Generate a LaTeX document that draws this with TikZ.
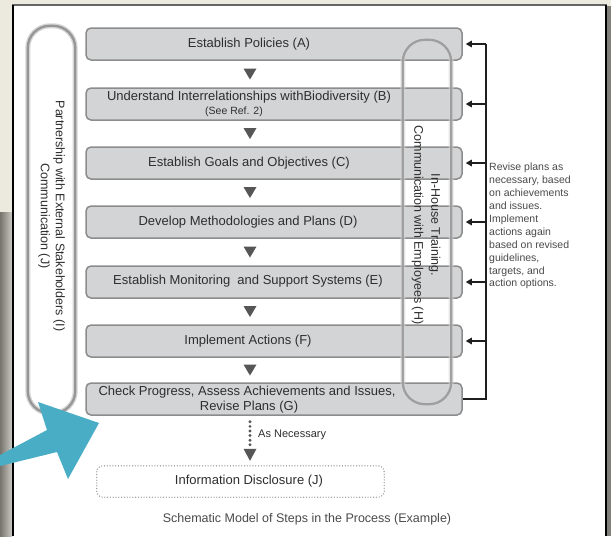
\documentclass[tikz,border=0pt]{standalone}
\usepackage{fontspec}
\setmainfont{Liberation Sans}
\usetikzlibrary{calc,arrows.meta}
\definecolor{bgbeige}{HTML}{ECE9DF}
\definecolor{stripgray}{HTML}{A9A59B}
\definecolor{boxfill}{HTML}{D3D4D6}
\definecolor{boxline}{HTML}{8C8C8C}
\definecolor{trigray}{HTML}{565656}
\definecolor{pillline}{HTML}{969696}
\definecolor{pillsoft}{HTML}{D6D6D6}
\definecolor{tealarrow}{HTML}{4AADC6}
\definecolor{txtdark}{HTML}{2E2E2E}
\definecolor{txtmid}{HTML}{4A4A4A}
\begin{document}
\begin{tikzpicture}[x=1pt,y=-1pt,
  stepbox/.style={draw=boxline,fill=boxfill,line width=1.5pt,rounded corners=5pt,minimum width=376pt,minimum height=32pt,inner sep=0pt},
  boxtext/.style={font=\fontsize{13}{15}\selectfont,text=txtdark,inner sep=0pt},
  smalltext/.style={font=\fontsize{10.5}{12}\selectfont,text=txtdark,inner sep=0pt},
  pillsoftline/.style={draw=pillsoft,line width=5pt,rounded corners=22pt},
  pillmain/.style={draw=pillline,line width=2.3pt,rounded corners=22pt},
  pilltext/.style={font=\fontsize{12.5}{15}\selectfont,text=txtdark,align=center,rotate=-90,inner sep=0pt},
  fbline/.style={draw=black!88,line width=1.3pt},
  fbarrow/.style={draw=black!88,line width=1.3pt,-{Triangle[length=6pt,width=6.5pt]},shorten >=3pt},
  dotflow/.style={draw=trigray,line width=3.2pt,line cap=round,dash pattern=on 0pt off 4.6pt},
  infobox/.style={draw=black!40,line width=1.4pt,line cap=round,dash pattern=on 0pt off 2.8pt,rounded corners=6pt,minimum width=287pt,minimum height=31pt,inner sep=0pt}
]
\useasboundingbox (0,0) rectangle (611,536);
% background and panel
\fill[bgbeige] (0,0) rectangle (611,536);
\shade[left color=stripgray!70!black,right color=stripgray!60!white,shading angle=90] (0,212) rectangle (12,536);
\fill[white] (13,5) rectangle (606,536);
\draw[black!60,line width=1.6pt] (12,5) -- (607,5);
\draw[black,line width=2pt] (13,5) -- (13,536);
\fill[black!45!bgbeige] (607,6) rectangle (611,536);
\draw[black,line width=2.6pt] (606,5) -- (606,536);

\coordinate (flowx) at (250,0);
\coordinate (fbx) at (486,0);

% left pill
\node[minimum width=47pt,minimum height=387pt,inner sep=0pt] (I) at (51.5,219.5) {};
\draw[pillsoftline] (I.north west) rectangle (I.south east);
\draw[pillmain] (I.north west) rectangle (I.south east);
\node[pilltext] (Itext) at (51.5,216) {Partnership with External Stakeholders (I)\\Communication (J)};

% step boxes
\node[stepbox] (A) at (274,44) {};
\node[stepbox] (B) at (274,104) {};
\node[stepbox] (C) at (274,163) {};
\node[stepbox] (D) at (274,222) {};
\node[stepbox] (E) at (274,282) {};
\node[stepbox] (F) at (274,341) {};
\node[stepbox] (G) at (274,399) {};

\node[boxtext] (tA) at (249,44) {Establish Policies (A)};
\node[boxtext] (tB1) at (249,97) {Understand Interrelationships withBiodiversity (B)};
\node[smalltext] (tB2) at (234,111.5) {(See Ref. 2)};
\node[boxtext] (tC) at (249,163) {Establish Goals and Objectives (C)};
\node[boxtext] (tD) at (248,222) {Develop Methodologies and Plans (D)};
\node[boxtext] (tE) at (248,281) {Establish Monitoring \ and Support Systems (E)};
\node[boxtext] (tF) at (248,341) {Implement Actions (F)};
\node[boxtext] (tG1) at (247,392.5) {Check Progress, Assess Achievements and Issues,};
\node[boxtext] (tG2) at (249,407.5) {Revise Plans (G)};

% triangles between steps
\foreach \a/\b in {A/B,B/C,C/D,D/E,E/F,F/G}{
  \fill[trigray] ($(\a.south -| flowx)!0.5!(\b.north -| flowx)$) ++(-6.5,-5.5) -- ++(13,0) -- ++(-6.5,11) -- cycle;
}

% right pill (on top of boxes)
\node[minimum width=48pt,minimum height=364pt,inner sep=0pt] (H) at (427,222) {};
\draw[pillsoftline,opacity=0.6] (H.north west) rectangle (H.south east);
\draw[pillmain,opacity=0.85] (H.north west) rectangle (H.south east);
\node[pilltext,font=\fontsize{12.5}{17}\selectfont] (Htext) at (426,225) {In-House Training.\\Communication with Employees (H)};

% feedback loop
\draw[fbline] (A.east -| fbx) |- (G.east);
\foreach \n in {A,B,C,D,E,F}{
  \draw[fbarrow] (\n.east -| fbx) -- (\n.east);
}
\node[anchor=north west,align=left,inner sep=0pt,text=txtmid,font=\fontsize{10.5}{12.9}\selectfont] (rev) at (489,163)
 {Revise plans as\\necessary, based\\on achievements\\and issues.\\Implement\\actions again\\based on revised\\guidelines,\\targets, and\\action options.};

% as necessary
\node[minimum width=287pt,minimum height=31pt,inner sep=0pt] (J) at (240.5,481.5) {};
\coordinate (dtop) at ($(G.south -| flowx)+(0,6)$);
\coordinate (dbot) at ($(J.north -| flowx)+(0,-20)$);
\draw[dotflow] (dtop) -- (dbot);
\fill[trigray] ($(J.north -| flowx)+(-6.5,-17)$) -- ++(13,0) -- ++(-6.5,12) -- cycle;
\node[anchor=west,inner sep=0pt,text=txtdark,font=\fontsize{11}{13}\selectfont] (asn) at (258,435) {As Necessary};

\draw[infobox] (J.north west) rectangle (J.south east);
\node[boxtext] (tJ) at (249,481) {Information Disclosure (J)};

\node[inner sep=0pt,text=txtmid,font=\fontsize{12.5}{15}\selectfont] (cap) at (307,519) {Schematic Model of Steps in the Process (Example)};

% blue arrow
\fill[tealarrow] (0,455) -- (47,430) -- (38,402) -- (99,423) -- (68,479) -- (57,452) -- (0,466) -- cycle;
\end{tikzpicture}
\end{document}
